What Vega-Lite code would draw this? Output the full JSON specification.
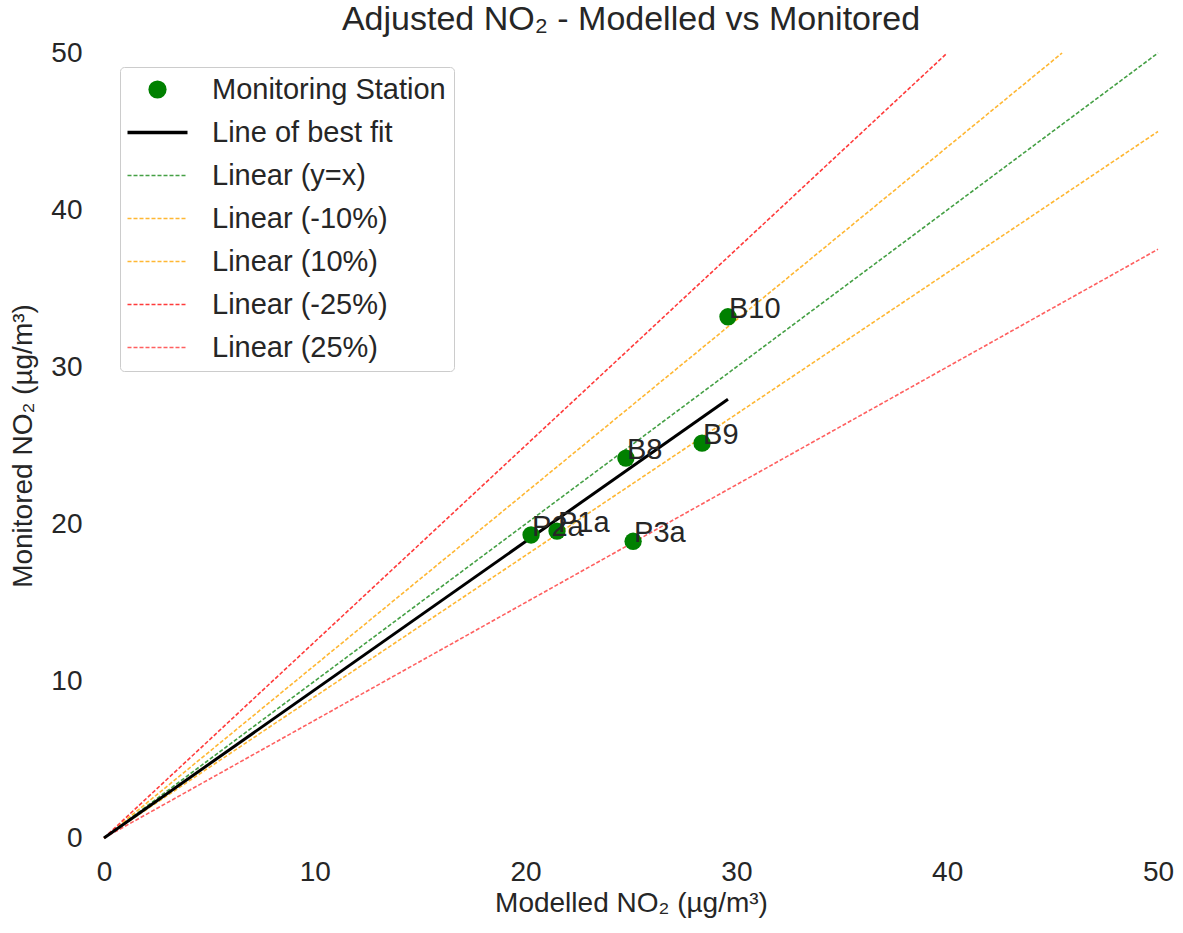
{
  "$schema": "https://vega.github.io/schema/vega-lite/v6.json",
  "width": 1054,
  "height": 785,
  "autosize": {"type": "none"},
  "padding": {"left": 104, "top": 53, "right": 25, "bottom": 95},
  "background": "white",
  "config": {
    "view": {"stroke": null},
    "font": "Liberation Sans",
    "axis": {"grid": false, "domain": false, "ticks": false, "labelFlush": false, "labelFontSize": 28, "labelColor": "#262626", "titleFontSize": 28, "titleColor": "#262626", "titleFontWeight": "normal", "labelFont": "Liberation Sans", "titleFont": "Liberation Sans"}
  },
  "title": {"text": "Adjusted NO₂ - Modelled vs Monitored", "fontSize": 34, "fontWeight": "normal", "color": "#262626", "font": "Liberation Sans", "offset": 2},
  "datasets": {
    "lines": [
      {"series": "Line of best fit", "x": 0, "y": 0},
      {"series": "Line of best fit", "x": 29.6, "y": 27.95},
      {"series": "Linear (y=x)", "x": 0, "y": 0},
      {"series": "Linear (y=x)", "x": 50, "y": 50},
      {"series": "Linear (-10%)", "x": 0, "y": 0},
      {"series": "Linear (-10%)", "x": 45.45, "y": 50},
      {"series": "Linear (10%)", "x": 0, "y": 0},
      {"series": "Linear (10%)", "x": 50, "y": 45},
      {"series": "Linear (-25%)", "x": 0, "y": 0},
      {"series": "Linear (-25%)", "x": 40, "y": 50},
      {"series": "Linear (25%)", "x": 0, "y": 0},
      {"series": "Linear (25%)", "x": 50, "y": 37.5}
    ],
    "stations": [
      {"series": "Monitoring Station", "name": "B10", "x": 29.6, "y": 33.2},
      {"series": "Monitoring Station", "name": "B9", "x": 28.37, "y": 25.15},
      {"series": "Monitoring Station", "name": "B8", "x": 24.76, "y": 24.2},
      {"series": "Monitoring Station", "name": "P2a", "x": 20.26, "y": 19.3},
      {"series": "Monitoring Station", "name": "P1a", "x": 21.49, "y": 19.55},
      {"series": "Monitoring Station", "name": "P3a", "x": 25.1, "y": 18.9}
    ]
  },
  "layer": [
    {
      "data": {"name": "lines"},
      "transform": [{"filter": "datum.series !== 'Line of best fit'"}],
      "mark": {"type": "line", "strokeCap": "butt", "strokeWidth": 1.6, "strokeDash": [4, 2]},
      "encoding": {
        "x": {"field": "x", "type": "quantitative", "scale": {"domain": [0, 50], "nice": false}, "axis": {"values": [0, 10, 20, 30, 40, 50], "title": "Modelled NO₂ (µg/m³)", "labelPadding": 20, "titlePadding": 3}},
        "y": {"field": "y", "type": "quantitative", "scale": {"domain": [0, 50], "nice": false}, "axis": {"values": [0, 10, 20, 30, 40, 50], "title": "Monitored NO₂ (µg/m³)", "labelPadding": 22, "titlePadding": 13}},
        "detail": {"field": "series"},
        "color": {
          "field": "series", "type": "nominal",
          "scale": {
            "domain": ["Monitoring Station", "Line of best fit", "Linear (y=x)", "Linear (-10%)", "Linear (10%)", "Linear (-25%)", "Linear (25%)"],
            "range": ["green", "black", "#45a045", "#ffb733", "#ffb733", "#ff3b3b", "#ff6060"]
          },
          "legend": {
            "title": null,
            "orient": "none",
            "legendX": 16,
            "legendY": 14,
            "padding": 8,
            "strokeColor": "#cccccc",
            "fillColor": "white",
            "cornerRadius": 4,
            "labelFontSize": 29,
            "labelColor": "#262626",
            "labelFont": "Liberation Sans",
            "labelLimit": 400,
            "symbolSize": 900,
            "symbolOffset": 15,
            "labelOffset": 40,
            "rowPadding": 13,
            "encode": {
              "symbols": {
                "update": {
                  "shape": {"signal": "datum.value === 'Monitoring Station' ? 'circle' : 'M-2,0H2'"},
                  "size": {"signal": "datum.value === 'Monitoring Station' ? 330 : 900"},
                  "fill": {"signal": "datum.value === 'Monitoring Station' ? 'green' : 'transparent'"},
                  "strokeWidth": {"signal": "datum.value === 'Monitoring Station' ? 0 : (datum.value === 'Line of best fit' ? 3.5 : 1.5)"},
                  "strokeDash": {"signal": "datum.value === 'Monitoring Station' || datum.value === 'Line of best fit' ? [1, 0] : [4, 2]"},
                  "opacity": {"value": 1}
                }
              }
            }
          }
        }
      }
    },
    {
      "data": {"name": "lines"},
      "transform": [{"filter": "datum.series === 'Line of best fit'"}],
      "mark": {"type": "line", "strokeCap": "butt", "strokeWidth": 3},
      "encoding": {
        "x": {"field": "x", "type": "quantitative"},
        "y": {"field": "y", "type": "quantitative"},
        "color": {"field": "series", "type": "nominal"}
      }
    },
    {
      "data": {"name": "stations"},
      "mark": {"type": "point", "filled": true, "opacity": 1, "size": 300},
      "encoding": {
        "x": {"field": "x", "type": "quantitative"},
        "y": {"field": "y", "type": "quantitative"},
        "color": {"field": "series", "type": "nominal"}
      }
    },
    {
      "data": {"name": "stations"},
      "mark": {"type": "text", "align": "left", "baseline": "alphabetic", "fontSize": 29, "color": "#262626", "font": "Liberation Sans", "dx": 1, "dy": 1},
      "encoding": {
        "x": {"field": "x", "type": "quantitative"},
        "y": {"field": "y", "type": "quantitative"},
        "text": {"field": "name"}
      }
    }
  ]
}
